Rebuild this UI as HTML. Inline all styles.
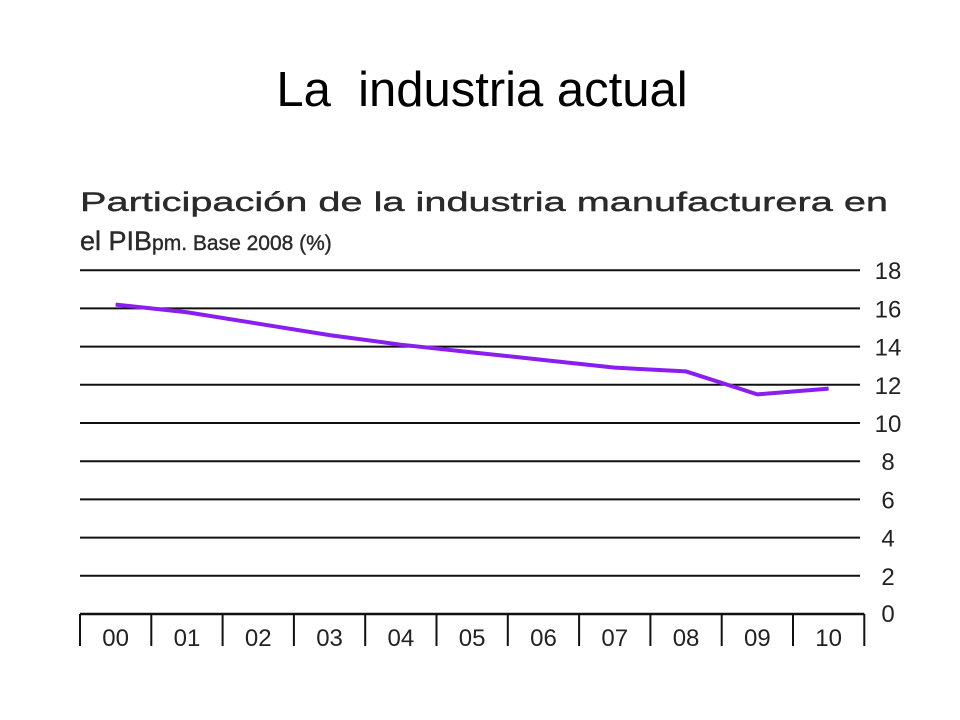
<!DOCTYPE html>
<html><head><meta charset="utf-8"><style>
body{margin:0;width:960px;height:720px;background:#fff;overflow:hidden;font-family:"Liberation Sans",sans-serif}
</style></head><body>
<div style="position:absolute;left:0;width:960px;top:62px;text-align:center;font-size:49px;color:#000;padding-left:2px">La&nbsp; industria actual</div>
<svg width="960" height="720" style="position:absolute;left:0;top:0">
<text x="80" y="211" font-size="27" fill="#2a2a2a" stroke="#2a2a2a" stroke-width="0.4" textLength="808" lengthAdjust="spacingAndGlyphs">Participación de la industria manufacturera en</text>
<text x="80" y="250" font-size="27" fill="#2a2a2a" stroke="#2a2a2a" stroke-width="0.4">el PIB<tspan font-size="21">pm. Base 2008 (%)</tspan></text>
<g id="grid"></g><g id="xaxis"></g>
<polyline id="line" fill="none" stroke="#8a1ef0" stroke-width="4" stroke-linejoin="round"/>
</svg>
<script>
const categories=["00","01","02","03","04","05","06","07","08","09","10"];
const values=[16.2,15.8,15.2,14.6,14.1,13.7,13.3,12.9,12.7,11.5,11.8];
const yTicks=[0,2,4,6,8,10,12,14,16,18];
const x0=80,cw=71.3,yBase=614,yStep=19.1;
const xs=i=>x0+cw*(i+0.5);
const ys=v=>yBase-v*yStep;
const ns="http://www.w3.org/2000/svg";
const g=document.getElementById('grid');
yTicks.forEach(t=>{
  if(t>0){const l=document.createElementNS(ns,'line');
  
  
  l.setAttribute('x1',x0);l.setAttribute('x2',860);l.setAttribute('y1',ys(t));l.setAttribute('y2',ys(t));
  l.setAttribute('stroke','#111');l.setAttribute('stroke-width','2');g.appendChild(l);}
  const tx=document.createElementNS(ns,'text');
  
  
  tx.setAttribute('x',888);tx.setAttribute('y',ys(t)+(t===0?8:9));tx.setAttribute('text-anchor','middle');
  tx.setAttribute('font-size','24');tx.setAttribute('fill','#222');tx.textContent=t;g.appendChild(tx);
});
const xa=document.getElementById('xaxis');
const base=document.createElementNS(ns,'line');


base.setAttribute('x1',x0);base.setAttribute('x2',x0+cw*categories.length);base.setAttribute('y1',yBase);base.setAttribute('y2',yBase);
base.setAttribute('stroke','#111');base.setAttribute('stroke-width','2.5');xa.appendChild(base);
for(let i=0;i<=categories.length;i++){
  const t=document.createElementNS(ns,'line');
  
  
  t.setAttribute('x1',x0+cw*i);t.setAttribute('x2',x0+cw*i);t.setAttribute('y1',yBase);t.setAttribute('y2',646);
  t.setAttribute('stroke','#111');t.setAttribute('stroke-width','2');xa.appendChild(t);
}
categories.forEach((c,i)=>{
  const tx=document.createElementNS(ns,'text');
  
  
  tx.setAttribute('x',xs(i));tx.setAttribute('y',646);tx.setAttribute('text-anchor','middle');
  tx.setAttribute('font-size','24');tx.setAttribute('fill','#222');tx.textContent=c;xa.appendChild(tx);
});
document.getElementById('line').setAttribute('points',values.map((v,i)=>xs(i)+','+ys(v)).join(' '));
</script>
</body></html>
